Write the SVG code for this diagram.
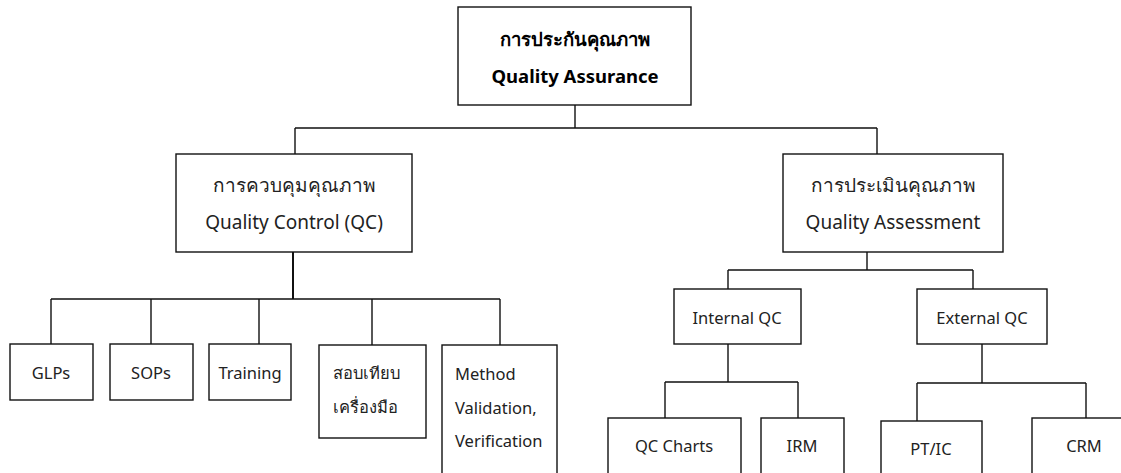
<svg xmlns="http://www.w3.org/2000/svg" width="1121" height="473" viewBox="0 0 1121 473">
<style>
rect{fill:#fff;stroke:#111;stroke-width:1.4}
.c{fill:none;stroke:#111;stroke-width:1.4}
text{font-family:"Noto Sans","DejaVu Sans",sans-serif;font-size:16.5px;fill:#222;dominant-baseline:central}
.m{text-anchor:middle}
.u{font-size:19px}
.b{font-weight:bold;fill:#000;font-size:18.5px}
</style>
<rect x="0" y="0" width="1121" height="473" style="stroke:none"/>
<g id="connectors">
<path class="c" d="M575 105V128M295 128H877M295 128V154M877 128V154"/>
<path class="c" d="M293 252V299" style="stroke-width:2"/>
<path class="c" d="M51 299H500M51 299V344M151 299V344M259 299V344M372 299V345M500 299V345"/>
<path class="c" d="M867 252V270M728 270H973M728 270V289M973 270V289"/>
<path class="c" d="M728 344V382M665 382H798M665 382V418M798 382V418"/>
<path class="c" d="M982 344V383M917 383H1086M917 383V421M1086 383V418"/>
</g>
<g id="qa"><rect x="458" y="7" width="233" height="98"/><text class="m b" x="575" y="38">การประกันคุณภาพ</text><text class="m b" x="575" y="75">Quality Assurance</text></g>
<g id="qc"><rect x="176" y="154" width="236" height="98"/><text class="m u" x="294" y="185">การควบคุมคุณภาพ</text><text class="m u" x="294" y="222">Quality Control (QC)</text></g>
<g id="qas"><rect x="783" y="154" width="220" height="98"/><text class="m u" x="893" y="185">การประเมินคุณภาพ</text><text class="m u" x="893" y="222">Quality Assessment</text></g>
<g id="glps"><rect x="10" y="344" width="83" height="56"/><text class="m" x="51" y="372">GLPs</text></g>
<g id="sops"><rect x="110" y="344" width="83" height="56"/><text class="m" x="151" y="372">SOPs</text></g>
<g id="training"><rect x="209" y="344" width="82" height="56"/><text class="m" x="250" y="372">Training</text></g>
<g id="calib"><rect x="319" y="345" width="107" height="93"/><text x="333" y="372">สอบเทียบ</text><text x="333" y="406">เครื่องมือ</text></g>
<g id="method"><rect x="442" y="345" width="115" height="140"/><text x="455" y="373">Method</text><text x="455" y="407">Validation,</text><text x="455" y="440">Verification</text></g>
<g id="internal"><rect x="674" y="289" width="127" height="55"/><text class="m" x="737" y="317">Internal QC</text></g>
<g id="external"><rect x="917" y="289" width="130" height="55"/><text class="m" x="982" y="317">External QC</text></g>
<g id="qccharts"><rect x="608" y="418" width="133" height="70"/><text class="m" x="674" y="445">QC Charts</text></g>
<g id="irm"><rect x="761" y="418" width="83" height="70"/><text class="m" x="802" y="445">IRM</text></g>
<g id="ptic"><rect x="881" y="421" width="101" height="70"/><text class="m" x="931" y="448">PT/IC</text></g>
<g id="crm"><rect x="1032" y="418" width="100" height="70"/><text class="m" x="1084" y="445">CRM</text></g>
</svg>
